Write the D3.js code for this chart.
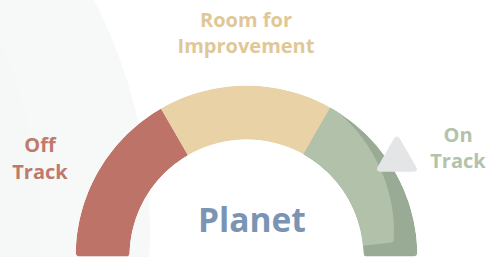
<!DOCTYPE html>
<html><head><meta charset="utf-8">
<script src="https://cdn.jsdelivr.net/npm/d3@7"></script>
<style>html,body{margin:0;padding:0;background:#fff;}svg{display:block;}</style>
</head><body>
<svg id="chart" width="490" height="257"></svg>
<script>
// Data
const categories = ["Off Track", "Room for Improvement", "On Track"];
const categoryLines = [["Off", "Track"], ["Room for", "Improvement"], ["On", "Track"]];
const bandStarts = [0, 33.33, 66.67];
const bandEnds = [33.33, 66.67, 100];
const gaugeValue = 81.7;
const centerLabel = "Planet";
const bandColors = ["#bd7367", "#e9d2a6", "#9aab95"];
const labelColors = ["#c0796b", "#dfc797", "#b3c2aa"];

const W = 490, H = 257;
const cx = 246.5, cy = 256.5;
const rOuter = 171, rInner = 117;

const svg = d3.select("#chart");

// background decorative shape
svg.append("circle").attr("cx", -350).attr("cy", 230).attr("r", 500).attr("fill", "#f7f8f8");
svg.append("circle").attr("cx", -430).attr("cy", 230).attr("r", 470).attr("fill", "#f6f7f7");

const angle = d3.scaleLinear().domain([0, 100]).range([-Math.PI / 2, Math.PI / 2]);

const g = svg.append("g").attr("transform", `translate(${cx},${cy})`);

const defs = svg.append("defs");
defs.append("clipPath").attr("id", "gclip").append("path")
  .attr("d", d3.arc().innerRadius(rInner).outerRadius(rOuter).cornerRadius(4)
    .startAngle(angle(0)).endAngle(angle(100))());

const gg = g.append("g").attr("clip-path", "url(#gclip)");
const arc = d3.arc().innerRadius(rInner).outerRadius(rOuter);
gg.selectAll("path.band").data(categories).join("path")
  .attr("class", "band")
  .attr("d", (d, i) => arc({startAngle: angle(bandStarts[i]), endAngle: angle(bandEnds[i])}))
  .attr("fill", (d, i) => bandColors[i]);

// lighter inner highlight on the last band
const hiStart = bandStarts[2], hiEnd = 96.5;
const outerR = d3.scaleLinear().domain([hiStart, hiEnd]).range([rOuter - 1, 146]);
const samples = d3.range(hiStart, hiEnd + 0.01, (hiEnd - hiStart) / 40);
const area = d3.areaRadial()
  .angle(d => angle(d))
  .innerRadius(rInner)
  .outerRadius(d => outerR(d))
  .curve(d3.curveLinear);
gg.append("path").attr("d", area(samples)).attr("fill", "#b2c1a9")
  .attr("stroke", "#b2c1a9").attr("stroke-width", 4).attr("stroke-linejoin", "round");

// pointer triangle
const pa = angle(gaugeValue), pr = 179.2;
g.append("path")
  .attr("d", d3.symbol(d3.symbolTriangle, 492)())
  .attr("transform", `translate(${pr * Math.sin(pa)},${-pr * Math.cos(pa)})`)
  .attr("fill", "#e4e5e7").attr("stroke", "#e4e5e7")
  .attr("stroke-width", 6).attr("stroke-linejoin", "round");

// labels
const font = "'Open Sans', Lato, sans-serif";
const labelPos = [[40, 152], [246, 26.5], [458, 141.5]];
categoryLines.forEach((lines, i) => {
  const t = svg.append("text").attr("text-anchor", "middle")
    .attr("font-family", font).attr("font-weight", 700).attr("font-size", 20)
    .attr("fill", labelColors[i]);
  lines.forEach((ln, j) => {
    t.append("tspan").attr("x", labelPos[i][0]).attr("y", labelPos[i][1] + j * 26.7).text(ln);
  });
});

svg.append("text").attr("x", cx + 5.5).attr("y", 232).attr("text-anchor", "middle")
  .attr("font-family", font).attr("font-weight", 700).attr("font-size", 33.5)
  .attr("fill", "#7b94b4").text(centerLabel);
</script>
</body></html>
